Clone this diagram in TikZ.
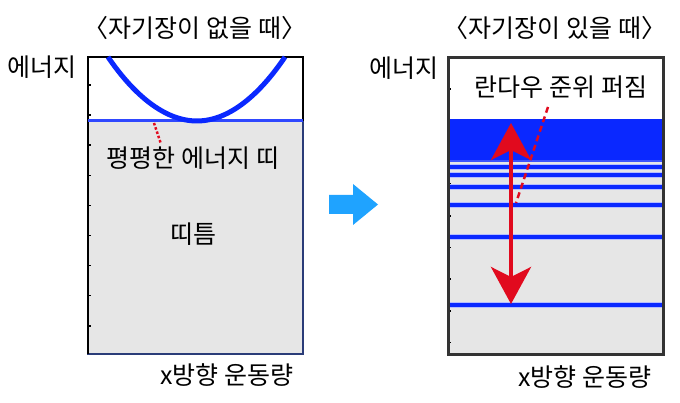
\documentclass[tikz,border=0pt]{standalone}
\usepackage{fontspec}
\usepackage{tikz}
\usetikzlibrary{arrows.meta}
\newfontfamily\kr{Noto Sans CJK KR}

\definecolor{levelblue}{HTML}{0A28FF}
\definecolor{gapgray}{HTML}{E6E6E6}
\definecolor{spreadred}{HTML}{E10A1E}
\definecolor{skyblue}{HTML}{1FA3FF}
\definecolor{framegray}{HTML}{333333}
\definecolor{edgenavy}{HTML}{2A3C78}

\tikzset{
	lbl/.style={font=\kr\fontsize{25}{28}\selectfont, inner sep=0pt},
	tick/.style={line width=1.5pt, black},
	level/.style={line width=4pt, levelblue},
}

\begin{document}
\begin{tikzpicture}[x=1pt,y=1pt,yscale=-1]
	\useasboundingbox (0,0) rectangle (680,403);

	% left panel: no field
	\fill[gapgray] (88,121) rectangle (303,354);
	\foreach \i in {0,...,8}
		\draw[tick] (88,85+30.1*\i) -- (91,85+30.1*\i);
	\draw[edgenavy, line width=2.5pt] (88,121) rectangle (303,354);
	\draw[black, line width=2.5pt] (88,354) -- (88,57) -- (303,57) -- (303,121);
	\draw[line width=3pt, levelblue!85!white] (88,121) -- (303,121);
	\draw[line width=5pt, levelblue] (108,57) parabola bend (197,121) (285,57);

	\coordinate (bandtop) at (154,123);
	\node[lbl] (flatband) at (193,158) {평평한 에너지 띠};
	\coordinate (flatfoot) at (161,144);
	\draw[spreadred, line width=2.5pt, dash pattern=on 2.5pt off 2pt] (bandtop) -- (flatfoot);

	\node[lbl] (title1) at (195,28) {〈자기장이 없을 때〉};
	\node[lbl] (energy1) at (42,67) {에너지};
	\node[lbl] (gap1) at (193,234) {띠틈};
	\node[lbl] (mom1) at (227,375) {x방향 운동량};

	% arrow between panels
	\fill[skyblue] (329,195) -- (353,195) -- (353,184) -- (378,204.5) -- (353,225) -- (353,214) -- (329,214) -- cycle;

	% right panel: with field
	\fill[gapgray] (448,119) rectangle (663,354);
	\foreach \i in {0,...,8}
		\draw[tick] (448,89+31.7*\i) -- (451,89+31.7*\i);
	\fill[levelblue] (448,119) rectangle (663,160);
	\fill[levelblue!80!white] (448,160) rectangle (663,162);
	\foreach \y in {167,175,187,205,237,305}{
		\draw[line width=6pt, levelblue!30!white] (448,\y) -- (663,\y);
		\draw[level] (448,\y) -- (663,\y);
	}
	\draw[framegray, line width=3pt] (448,58) rectangle (663,354);

	\node[lbl] (title2) at (555,28) {〈자기장이 있을 때〉};
	\node[lbl] (energy2) at (404,68) {에너지};
	\node[lbl] (landau) at (561,87) {란다우 준위 퍼짐};
	\node[lbl] (mom2) at (585,377) {x방향 운동량};

	\coordinate (spreadtop) at (511,123);
	\coordinate (spreadbot) at (511,304);
	\draw[spreadred, line width=4pt, {Stealth[length=37pt,width=40pt,inset=10pt]}-{Stealth[length=37pt,width=40pt,inset=10pt]}] (spreadtop) -- (spreadbot);
	\coordinate (landaufoot) at (548,107);
	\coordinate (landauend) at (516,203);
	\draw[spreadred, line width=2.5pt, dash pattern=on 6pt off 4pt] (landaufoot) -- (landauend);
\end{tikzpicture}
\end{document}
